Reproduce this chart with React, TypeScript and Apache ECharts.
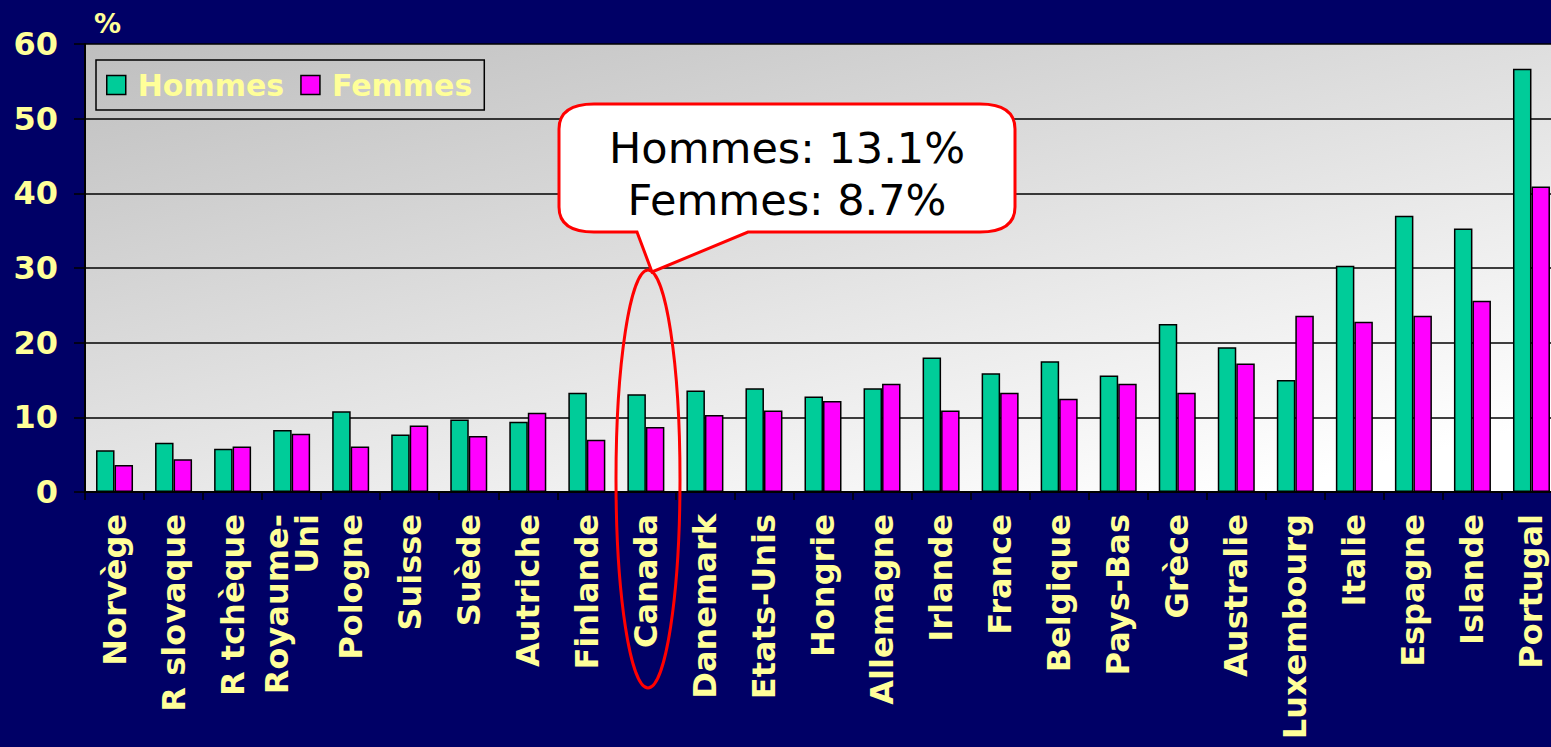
import React, { useEffect, useRef } from "react";
import * as echarts from "echarts";

const categories = [
  "Norvège", "R slovaque", "R tchèque", "Royaume-\nUni", "Pologne", "Suisse", "Suède",
  "Autriche", "Finlande", "Canada", "Danemark", "Etats-Unis", "Hongrie", "Allemagne",
  "Irlande", "France", "Belgique", "Pays-Bas", "Grèce", "Australie", "Luxembourg",
  "Italie", "Espagne", "Islande", "Portugal",
];
const hommes = [5.6, 6.6, 5.8, 8.3, 10.8, 7.7, 9.7, 9.4, 13.3, 13.1, 13.6, 13.9, 12.8, 13.9, 18.0, 15.9, 17.5, 15.6, 22.5, 19.4, 15.0, 30.3, 37.0, 35.3, 56.7];
const femmes = [3.6, 4.4, 6.1, 7.8, 6.1, 8.9, 7.5, 10.6, 7.0, 8.7, 10.3, 10.9, 12.2, 14.5, 10.9, 13.3, 12.5, 14.5, 13.3, 17.2, 23.6, 22.8, 23.6, 25.6, 40.9];
const seriesNames = ["Hommes", "Femmes"];
const yTicks = { min: 0, max: 60, interval: 10 };
const calloutText = "Hommes: 13.1%\nFemmes: 8.7%";

const FONT = "'DejaVu Sans', Verdana, sans-serif";
const YELLOW = "#FFFF99";

let registered = false;
function registerCallout() {
  if (registered) return;
  registered = true;
  const d =
    "M 594 104 L 980 104 Q 1015 104 1015 129 L 1015 207 Q 1015 232 980 232 L 748 232 L 652 272 L 637 232 L 594 232 Q 559 232 559 207 L 559 129 Q 559 104 594 104 Z";
  echarts.graphic.registerShape("callout", echarts.graphic.extendPath(d, {}) as any);
}

export default function App() {
  const ref = useRef<HTMLDivElement>(null);
  useEffect(() => {
    if (!ref.current) return;
    registerCallout();
    const chart = echarts.init(ref.current, undefined, { renderer: "svg" });
    chart.setOption({
      animation: false,
      backgroundColor: "#000066",
      textStyle: { fontFamily: FONT },
      grid: {
        left: 85,
        top: 44,
        width: 1476,
        height: 448,
        show: true,
        borderWidth: 0,
        backgroundColor: new echarts.graphic.LinearGradient(0, 0, 0.8, 1, [
          { offset: 0, color: "#bfbfbf" },
          { offset: 1, color: "#ffffff" },
        ]),
      },
      legend: {
        left: 96,
        top: 60,
        orient: "horizontal",
        padding: [7, 12, 7, 10],
        itemGap: 16,
        itemWidth: 19,
        itemHeight: 19,
        icon: "rect",
        borderColor: "#000",
        borderWidth: 1.5,
        itemStyle: { borderColor: "#000", borderWidth: 1.5 },
        textStyle: {
          color: YELLOW,
          fontSize: 30,
          fontWeight: "bold",
          fontFamily: FONT,
          lineHeight: 36,
          padding: [0, 0, 0, 7],
        },
        data: seriesNames,
      },
      xAxis: {
        type: "category",
        data: categories,
        axisLine: { show: true, lineStyle: { color: "#000", width: 2 } },
        axisTick: { show: true, length: 8, lineStyle: { color: "#000", width: 1.5 } },
        axisLabel: {
          interval: 0,
          rotate: 90,
          margin: 22,
          color: YELLOW,
          fontSize: 32,
          fontWeight: "bold",
          fontFamily: FONT,
          lineHeight: 30,
        },
        splitLine: { show: false },
      },
      yAxis: {
        type: "value",
        min: yTicks.min,
        max: yTicks.max,
        interval: yTicks.interval,
        axisLine: { show: true, lineStyle: { color: "#000", width: 2 } },
        axisTick: { show: true, length: 11, lineStyle: { color: "#000", width: 1.5 } },
        axisLabel: {
          margin: 27,
          color: YELLOW,
          fontSize: 32,
          fontWeight: "bold",
          fontFamily: FONT,
        },
        splitLine: { show: true, lineStyle: { color: "#000", width: 1.5 } },
      },
      series: [
        {
          name: seriesNames[0],
          type: "bar",
          data: hommes,
          barWidth: 18.5,
          barGap: "0%",
          itemStyle: { color: "#00CC99", borderColor: "#000", borderWidth: 1.5 },
        },
        {
          name: seriesNames[1],
          type: "bar",
          data: femmes,
          barWidth: 18.5,
          barGap: "0%",
          itemStyle: { color: "#FF00FF", borderColor: "#000", borderWidth: 1.5 },
        },
      ],
      graphic: [
        {
          type: "text",
          left: 94,
          top: 10,
          z: 100,
          style: {
            text: "%",
            fill: YELLOW,
            fontSize: 27,
            fontWeight: "bold",
            fontFamily: FONT,
          },
        },
        {
          type: "ellipse",
          z: 100,
          shape: { cx: 648, cy: 479, rx: 32, ry: 209 },
          style: { fill: "none", stroke: "#FF0000", lineWidth: 3 },
        },
        {
          type: "callout",
          x: 0,
          y: 0,
          z: 101,
          style: { fill: "#FFFFFF", stroke: "#FF0000", lineWidth: 3 },
        },
        {
          type: "text",
          x: 787,
          y: 174,
          z: 102,
          style: {
            text: calloutText,
            fill: "#000",
            fontSize: 43,
            fontFamily: FONT,
            align: "center",
            verticalAlign: "middle",
            lineHeight: 52,
          },
        },
      ],
    });
    return () => chart.dispose();
  }, []);
  return (
    <div style={{ position: "fixed", left: 0, top: 0, width: 1551, height: 747, overflow: "hidden" }}>
      <div ref={ref} style={{ width: 1600, height: 747 }} />
    </div>
  );
}
